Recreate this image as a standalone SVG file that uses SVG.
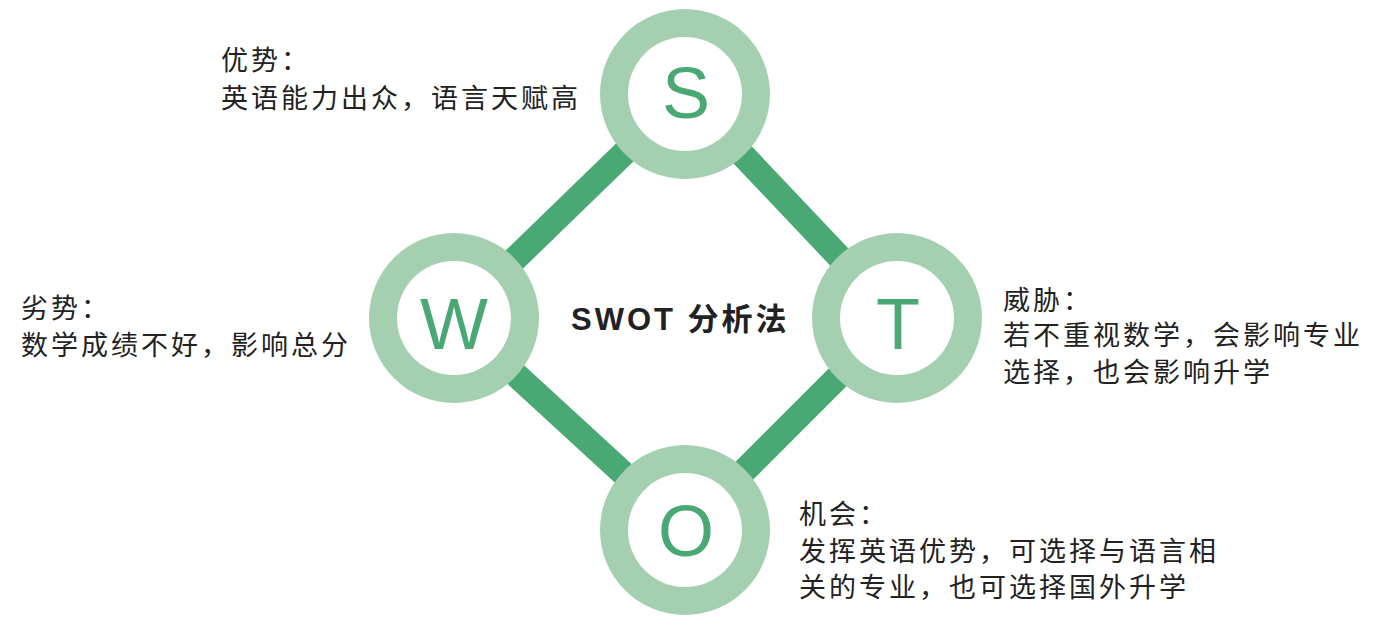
<svg xmlns="http://www.w3.org/2000/svg" width="1386" height="626" viewBox="0 0 1386 626">
<style>
.link{stroke:#4aa874;stroke-width:25;fill:none}
.ring{fill:#a4cfb0}
.hole{fill:#ffffff}
.letter{font-family:"Liberation Sans",Arial,sans-serif;font-size:72px;fill:#4aa874;text-anchor:middle}
.desc{font-family:"Noto Sans CJK SC","Noto Sans",sans-serif;font-size:27px;letter-spacing:3px;fill:#222222}
.title{font-family:"Liberation Sans","Noto Sans CJK SC",sans-serif;font-size:31px;font-weight:bold;letter-spacing:3px;fill:#222222}
</style>
<rect width="1386" height="626" fill="#ffffff"/>
<g id="connectors">
<line class="link" x1="685" y1="94" x2="454" y2="318"/>
<line class="link" x1="685" y1="94" x2="897" y2="318"/>
<line class="link" x1="454" y1="318" x2="685" y2="530"/>
<line class="link" x1="897" y1="318" x2="685" y2="530"/>
</g>
<g id="node-S">
<circle class="ring" cx="685" cy="94" r="85"/>
<circle class="hole" cx="685" cy="94" r="57"/>
<text class="letter" x="686" y="118">S</text>
</g>
<g id="node-W">
<circle class="ring" cx="454" cy="318" r="85"/>
<circle class="hole" cx="454" cy="318" r="57"/>
<text class="letter" x="454" y="349">W</text>
</g>
<g id="node-T">
<circle class="ring" cx="897" cy="318" r="85"/>
<circle class="hole" cx="897" cy="318" r="57"/>
<text class="letter" x="898" y="349">T</text>
</g>
<g id="node-O">
<circle class="ring" cx="685" cy="530" r="85"/>
<circle class="hole" cx="685" cy="530" r="57"/>
<text class="letter" x="686" y="556">O</text>
</g>
<g id="center-label">
<text class="title" x="571" y="330">SWOT 分析法</text>
</g>
<g id="text-S">
<text class="desc" x="221" y="70">优势：</text>
<text class="desc" x="221" y="108">英语能力出众，语言天赋高</text>
</g>
<g id="text-W">
<text class="desc" x="21" y="318">劣势：</text>
<text class="desc" x="21" y="355">数学成绩不好，影响总分</text>
</g>
<g id="text-T">
<text class="desc" x="1003" y="310">威胁：</text>
<text class="desc" x="1003" y="345">若不重视数学，会影响专业</text>
<text class="desc" x="1003" y="382">选择，也会影响升学</text>
</g>
<g id="text-O">
<text class="desc" x="799" y="524">机会：</text>
<text class="desc" x="799" y="561">发挥英语优势，可选择与语言相</text>
<text class="desc" x="799" y="597">关的专业，也可选择国外升学</text>
</g>
</svg>
